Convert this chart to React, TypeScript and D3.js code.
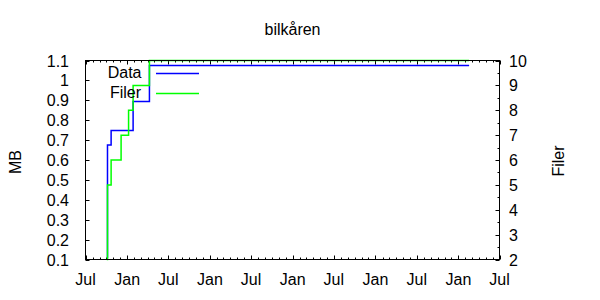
import React from "react";
import * as d3 from "d3";

const title = "bilkåren";
const dates = ["2004-10-03", "2004-10-06", "2004-10-22", "2004-12-05", "2005-01-07", "2005-01-27", "2005-04-09", "2009-02-17"];
const dataMB = [0.11, 0.676, 0.748, 0.748, 0.748, 0.894, 1.075, 1.075];
const filer = [2, 5, 6, 7, 8, 9, 10, 10];
const leftTicks = [0.1, 0.2, 0.3, 0.4, 0.5, 0.6, 0.7, 0.8, 0.9, 1, 1.1];
const rightTicks = [2, 3, 4, 5, 6, 7, 8, 9, 10];
const xStart = "2004-07-01";
const xEnd = "2009-07-01";

const W = 600, H = 300;
const L = 85.5, R = 499.5, T = 60.5, B = 259.5;
const FONT = "'Liberation Sans', Arial, sans-serif";

export default function App() {
  const parse = d3.timeParse("%Y-%m-%d");
  const x = d3.scaleTime().domain([parse(xStart)!, parse(xEnd)!]).range([L, R]);
  const yL = d3.scaleLinear().domain([0.1, 1.1]).range([B, T]);
  const yR = d3.scaleLinear().domain([2, 10]).range([B, T]);
  const pts = dates.map((d, i) => ({ t: parse(d)!, mb: dataMB[i], f: filer[i] }));
  const lineMB = d3.line<any>().x(d => x(d.t)).y(d => yL(d.mb)).curve(d3.curveStepAfter);
  const lineF = d3.line<any>().x(d => x(d.t)).y(d => yR(d.f)).curve(d3.curveStepAfter);
  const majorX = x.ticks(d3.timeMonth.every(6)!);
  const minorX = x.ticks(d3.timeMonth.every(1)!);
  const fmt = d3.timeFormat("%b");
  const minorR = d3.range(2, 10.01, 0.5);

  return (
    <svg width={W} height={H} style={{ position: "absolute", left: 0, top: 0, background: "#fff" }} fontFamily={FONT}>
      <rect x={0} y={0} width={W} height={H} fill="#fff" />
      <text x={(L + R) / 2} y={35} textAnchor="middle" fontSize={16}>{title}</text>
      <text transform={`translate(21,162) rotate(-90)`} textAnchor="middle" fontSize={16}>MB</text>
      <text transform={`translate(564,161) rotate(-90)`} textAnchor="middle" fontSize={16}>Filer</text>

      {/* left ticks */}
      {leftTicks.map(v => (
        <g key={"l" + v}>
          <line x1={L} x2={L + 4} y1={Math.round(yL(v)) + 0.5} y2={Math.round(yL(v)) + 0.5} stroke="#000" />
          <text x={69} y={yL(v) + 6} textAnchor="end" fontSize={16}>{d3.format("")(v)}</text>
        </g>
      ))}
      {/* right ticks */}
      {minorR.map(v => (
        <line key={"rm" + v} x1={R} x2={R - (Number.isInteger(v) ? 4 : 2)} y1={Math.round(yR(v)) + 0.5} y2={Math.round(yR(v)) + 0.5} stroke="#000" />
      ))}
      {rightTicks.map(v => (
        <text key={"r" + v} x={509} y={yR(v) + 6} textAnchor="start" fontSize={16}>{v}</text>
      ))}
      {/* x ticks */}
      {minorX.map((d, i) => {
        const xx = Math.round(x(d)) + 0.5;
        const len = d.getMonth() % 6 === 0 ? 4 : 2;
        return (
          <g key={"xm" + i}>
            <line x1={xx} x2={xx} y1={B} y2={B - len} stroke="#000" />
            <line x1={xx} x2={xx} y1={T} y2={T + len} stroke="#000" />
          </g>
        );
      })}
      {majorX.map((d, i) => (
        <text key={"xl" + i} x={x(d)} y={285} textAnchor="middle" fontSize={16}>{fmt(d)}</text>
      ))}

      {/* data */}
      <path d={lineMB(pts)!} fill="none" stroke="#0000ff" strokeWidth={1.5} />
      <path d={lineF(pts)!} fill="none" stroke="#00ff00" strokeWidth={1.5} />

      {/* legend */}
      <text x={141.5} y={78} textAnchor="end" fontSize={16}>Data</text>
      <line x1={156} x2={199} y1={73.5} y2={73.5} stroke="#0000ff" strokeWidth={1.5} />
      <text x={141} y={98} textAnchor="end" fontSize={16}>Filer</text>
      <line x1={156} x2={199} y1={93.5} y2={93.5} stroke="#00ff00" strokeWidth={1.5} />

      <rect x={L} y={T} width={R - L} height={B - T} fill="none" stroke="#000" strokeWidth={1} />
    </svg>
  );
}
